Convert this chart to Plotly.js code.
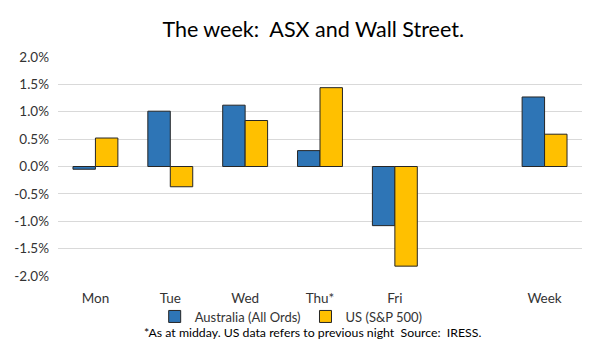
<!DOCTYPE html>
<html><head><meta charset="utf-8">
<script src="https://cdn.plot.ly/plotly-3.0.1.min.js"></script>
<style>html,body{margin:0;padding:0;background:#fff}</style>
</head><body><div id="chart" style="width:600px;height:346px"></div>
<script>
const categories = ["Mon","Tue","Wed","Thu*","Fri"," ","Week"];
const australia = [-0.05, 1.01, 1.12, 0.29, -1.08, null, 1.27];
const us = [0.52, -0.37, 0.84, 1.44, -1.82, null, 0.59];
const tickVals = [-2,-1.5,-1,-0.5,0,0.5,1,1.5,2];
const tickText = ["-2.0%","-1.5%","-1.0%","-0.5%","0.0%","0.5%","1.0%","1.5%","2.0%"];
const FONT = "Lato, 'Open Sans', sans-serif";
const data = [
  {type:"bar", name:"Australia (All Ords)", x:categories, y:australia,
   marker:{color:"#2E75B6", line:{color:"#262626", width:1}}},
  {type:"bar", name:"US (S&P 500)", x:categories, y:us,
   marker:{color:"#FFC000", line:{color:"#262626", width:1}}}
];
const layout = {
  width:600, height:346,
  margin:{l:58, r:18, t:57, b:70},
  paper_bgcolor:"#fff", plot_bgcolor:"#fff",
  font:{family:FONT, size:13, color:"#333"},
  title:{text:"The week:  ASX and Wall Street.", x:0.522, xanchor:"center", y:0.915, yanchor:"middle",
         font:{family:FONT, size:21.5, color:"#000"}},
  barmode:"group", bargap:0.4, bargroupgap:0,
  xaxis:{type:"category", categoryorder:"array", categoryarray:categories,
         showgrid:false, showline:false, ticks:"", ticklabelstandoff:12,
         tickfont:{size:13.5, color:"#333"}, fixedrange:true},
  yaxis:{range:[-2,2], tickvals:tickVals, ticktext:tickText, showgrid:true, gridcolor:"#D9D9D9", gridwidth:1,
         zeroline:true, zerolinecolor:"#D9D9D9", zerolinewidth:1, showline:false, ticks:"", ticklabelstandoff:8,
         tickfont:{size:13.5, color:"#333"}, fixedrange:true},
  showlegend:true,
  legend:{orientation:"h", x:0.445, xanchor:"center", y:-0.185, yanchor:"middle", bgcolor:"rgba(0,0,0,0)",
          font:{size:13, color:"#333"}, itemwidth:30, traceorder:"normal"},
  annotations:[{text:"*As at midday. US data refers to previous night  Source:  IRESS.", xref:"paper", yref:"paper",
                x:0.485, y:-0.26, xanchor:"center", yanchor:"middle", showarrow:false,
                font:{family:FONT, size:12.3, color:"#000"}}]
};
Plotly.newPlot("chart", data, layout, {displayModeBar:false, staticPlot:true});
</script></body></html>
